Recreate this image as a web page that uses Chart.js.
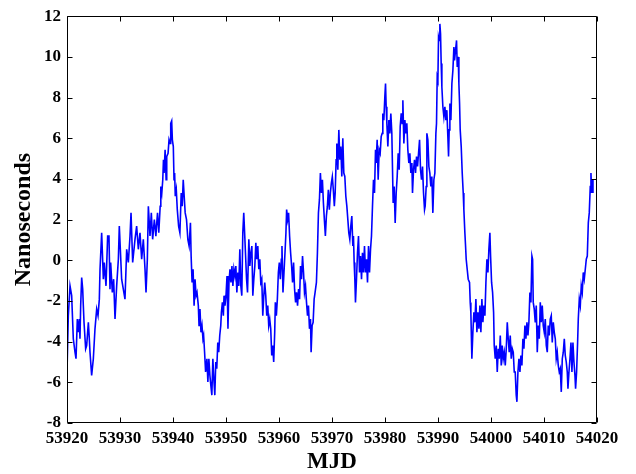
<!DOCTYPE html>
<html lang="es">
<head>
<meta charset="UTF-8">
<title>Variación en nanosegundos por MJD</title>
<script src="https://cdn.jsdelivr.net/npm/chart.js@4.4.1/dist/chart.umd.min.js"></script>
<style>
    body {
        margin: 0;
        background: #ffffff;
    }
    #contenedor {
        width: 636px;
        height: 474px;
    }
</style>
</head>
<body>
<div id="contenedor">
    <canvas id="myChart" width="636" height="474"></canvas>
</div>
<script>
// Valores leídos por tramos: fecha en MJD y desfase en nanosegundos

const mjdTramo1 = [53920.0, 53920.25, 53920.57, 53920.88, 53921.19, 53921.51, 53921.7, 53921.95, 53922.14, 53922.33, 53922.45, 53922.58, 53922.77, 53922.96, 53923.08, 53923.21, 53923.52, 53923.71, 53924.03, 53924.21, 53924.34, 53924.65, 53924.97, 53925.28, 53925.6, 53925.85, 53926.1, 53926.23, 53926.54, 53926.86, 53927.04, 53927.36, 53927.67, 53927.92, 53928.11, 53928.24, 53928.55, 53928.8, 53929.06, 53929.37, 53929.69, 53929.87, 53930.31, 53930.94, 53931.26, 53931.57, 53931.89, 53932.08, 53932.39, 53932.83, 53933.14, 53933.46, 53933.77, 53934.09, 53934.4, 53934.72, 53934.91, 53935.16, 53935.35, 53935.66, 53935.91, 53936.16, 53936.48];
const nsTramo1 = [-5.49, -2.72, -1.26, -1.74, -3.86, -4.52, -4.84, -2.89, -3.54, -2.89, -3.86, -2.23, -0.85, -1.42, -2.23, -3.05, -4.35, -4.19, -3.05, -3.86, -4.52, -5.66, -4.84, -3.37, -2.4, -2.72, -1.91, -0.44, 1.35, -0.93, -0.11, -1.26, 1.19, 1.19, -1.42, -0.11, -1.58, -0.93, -2.89, -1.26, 0.05, 1.68, -0.93, -1.91, 0.54, -0.11, 1.19, 2.33, -0.11, 1.03, 1.68, 0.54, 1.35, 0.05, 1.03, -0.44, -1.58, 0.05, 2.66, 1.19, 2.33, 1.03, 2.0];

const mjdTramo2 = [53936.77, 53936.89, 53937.08, 53937.32, 53937.58, 53937.7, 53937.89, 53938.07, 53938.2, 53938.32, 53938.51, 53938.7, 53938.82, 53939.07, 53939.25, 53939.44, 53939.57, 53939.75, 53939.88, 53940.06, 53940.19, 53940.31, 53940.43, 53940.62, 53940.81, 53941.06, 53941.3, 53941.55, 53941.74, 53941.93, 53942.11, 53942.3, 53942.55, 53942.8, 53943.04, 53943.29, 53943.42, 53943.6, 53943.79, 53943.98, 53944.16, 53944.35, 53944.53, 53944.78, 53944.91, 53945.09, 53945.28, 53945.47, 53945.65, 53945.78, 53945.96, 53946.15, 53946.4, 53946.58, 53946.77, 53946.96, 53947.14, 53947.33, 53947.52, 53947.7, 53947.89, 53948.07, 53948.26, 53948.45, 53948.63, 53948.82, 53949.01, 53949.13, 53949.32, 53949.5, 53949.63, 53949.81, 53950.0, 53950.19, 53950.37, 53950.56, 53950.75, 53950.93, 53951.12, 53951.3, 53951.49, 53951.68, 53951.86, 53952.05, 53952.24, 53952.42, 53952.61, 53952.8, 53952.98, 53953.17, 53953.35, 53953.54];
const nsTramo2 = [1.19, 1.68, 2.33, 1.35, 2.66, 3.63, 3.31, 3.96, 4.94, 4.29, 5.43, 3.96, 5.1, 5.26, 5.92, 5.75, 6.73, 6.85, 5.92, 5.59, 3.96, 4.29, 3.15, 3.47, 2.49, 1.68, 1.35, 3.31, 2.66, 3.96, 3.15, 2.33, 2.0, 1.03, 0.7, 1.84, 0.21, -1.09, -0.44, -2.23, -0.93, -1.74, -1.58, -2.23, -3.21, -2.4, -3.54, -3.21, -3.86, -3.7, -4.52, -5.49, -4.84, -5.98, -4.84, -5.66, -6.15, -6.63, -4.84, -5.82, -6.63, -5.0, -5.33, -4.04, -4.52, -3.7, -3.21, -2.56, -2.07, -2.72, -1.74, -2.23, -1.74, -0.77, -3.37, -1.09, -0.44, -1.09, -0.28, -1.26, -0.44, -0.77, -0.28, -1.58, -0.6, -1.26, 0.54, -1.26, -1.74, 1.35, 2.33, 1.19];

const mjdTramo3 = [53953.88, 53954.06, 53954.31, 53954.5, 53954.69, 53954.88, 53955.06, 53955.25, 53955.44, 53955.63, 53955.81, 53956.0, 53956.19, 53956.38, 53956.56, 53956.75, 53956.94, 53957.13, 53957.31, 53957.5, 53957.69, 53957.88, 53958.06, 53958.25, 53958.44, 53958.63, 53958.81, 53959.0, 53959.19, 53959.31, 53959.5, 53959.69, 53959.88, 53960.06, 53960.25, 53960.44, 53960.56, 53960.75, 53960.94, 53961.13, 53961.31, 53961.44, 53961.63, 53961.81, 53962.0, 53962.19, 53962.38, 53962.56, 53962.75, 53962.94, 53963.13, 53963.31, 53963.5, 53963.69, 53963.88, 53964.06, 53964.25, 53964.44, 53964.63, 53964.81, 53965.0, 53965.19, 53965.38, 53965.56, 53965.75, 53965.94, 53966.06, 53966.25, 53966.44, 53966.63, 53966.81, 53967.06, 53967.25, 53967.44, 53967.63, 53967.81, 53968.0, 53968.19, 53968.38, 53968.56, 53968.75, 53968.94, 53969.13, 53969.31, 53969.5, 53969.69, 53969.88, 53970.06, 53970.25, 53970.44];
const nsTramo3 = [-0.93, -1.58, 1.03, -0.28, 0.37, 0.7, -1.74, -0.93, -0.28, 0.86, 0.05, 0.7, -0.44, 0.05, -1.09, -0.93, -2.72, -1.74, -1.09, -1.74, -2.72, -2.23, -3.21, -2.89, -3.37, -4.68, -4.19, -5.0, -3.54, -2.07, -2.72, -1.91, -0.6, -0.11, -0.93, 0.05, 0.7, -1.58, -0.6, 0.37, 1.35, 2.49, 2.0, 2.33, 1.19, 0.37, -0.28, -1.09, -0.11, -1.42, -2.07, -1.58, -2.23, -1.42, -1.91, -0.28, -0.93, 0.21, -0.6, -1.58, -1.26, -2.07, -2.72, -2.23, -3.37, -2.89, -4.52, -3.21, -3.05, -1.91, -1.58, -1.09, 0.37, 2.33, 2.98, 4.29, 3.31, 3.96, 2.82, 2.0, 1.19, 2.17, 2.66, 3.47, 2.49, 3.31, 3.8, 4.11, 3.47, 2.66];

const mjdTramo4 = [53970.6, 53970.78, 53970.91, 53971.1, 53971.29, 53971.48, 53971.66, 53971.85, 53972.04, 53972.23, 53972.42, 53972.61, 53972.8, 53972.99, 53973.17, 53973.36, 53973.55, 53973.74, 53973.93, 53974.05, 53974.18, 53974.31, 53974.43, 53974.62, 53974.81, 53975.0, 53975.19, 53975.38, 53975.57, 53975.75, 53975.94, 53976.13, 53976.32, 53976.51, 53976.7, 53976.89, 53977.08, 53977.27, 53977.45, 53977.64, 53977.83, 53978.02, 53978.21, 53978.33, 53978.52, 53978.71, 53978.9, 53979.09, 53979.28, 53979.47, 53979.59, 53979.78, 53979.97, 53980.1, 53980.22, 53980.35, 53980.54, 53980.73, 53980.92, 53981.1, 53981.29, 53981.42, 53981.54, 53981.73, 53981.92, 53982.11, 53982.3, 53982.49, 53982.68, 53982.87, 53983.06, 53983.24, 53983.37, 53983.56, 53983.75, 53983.94, 53984.12, 53984.31, 53984.5, 53984.69, 53984.88, 53985.07, 53985.19, 53985.38, 53985.57, 53985.76, 53985.95, 53986.14, 53986.33, 53986.52, 53986.7, 53986.89, 53987.08, 53987.27, 53987.46];
const nsTramo4 = [3.31, 4.94, 5.74, 4.45, 6.41, 4.94, 5.59, 4.12, 6.0, 4.29, 4.12, 3.15, 2.66, 2.0, 1.35, 1.03, 1.68, 2.17, 0.7, 1.19, -0.11, -0.93, -2.07, -0.93, 0.37, 1.19, -0.6, 0.21, -0.93, 0.37, -0.6, 0.7, -0.6, 0.05, -1.09, 0.7, -0.6, 0.54, 1.19, 2.66, 3.96, 3.31, 5.43, 4.78, 5.92, 3.96, 5.43, 5.26, 6.08, 6.24, 7.22, 6.89, 8.04, 8.69, 7.55, 6.73, 5.59, 6.89, 6.24, 7.22, 6.24, 4.45, 2.82, 3.63, 1.84, 3.31, 4.12, 5.26, 4.45, 6.57, 7.22, 6.73, 7.87, 5.74, 6.89, 6.24, 6.73, 5.43, 4.78, 5.26, 4.29, 4.78, 3.31, 4.45, 4.94, 4.29, 5.1, 4.61, 5.26, 5.92, 4.45, 3.96, 4.61, 3.31, 2.49];

const mjdTramo5 = [53987.58, 53987.77, 53987.9, 53988.09, 53988.28, 53988.46, 53988.65, 53988.84, 53989.03, 53989.22, 53989.41, 53989.6, 53989.72, 53989.85, 53989.98, 53990.1, 53990.23, 53990.35, 53990.48, 53990.6, 53990.73, 53990.92, 53991.11, 53991.3, 53991.49, 53991.67, 53991.86, 53991.99, 53992.11, 53992.24, 53992.43, 53992.62, 53992.81, 53993.0, 53993.12, 53993.31, 53993.5, 53993.63, 53993.81, 53993.94, 53994.07, 53994.19, 53994.38, 53994.57, 53994.76, 53994.88, 53995.07, 53995.2, 53995.32, 53995.51, 53995.7, 53995.95, 53996.08, 53996.2, 53996.39, 53996.58, 53996.77, 53996.96, 53997.15, 53997.34, 53997.53, 53997.72, 53997.9, 53998.09, 53998.28, 53998.47, 53998.66, 53998.85, 53999.04, 53999.23, 53999.42, 53999.6, 53999.79, 53999.92, 54000.11, 54000.3, 54000.49, 54000.61, 54000.8, 54000.99, 54001.18, 54001.37, 54001.56, 54001.75, 54001.93, 54002.12, 54002.31, 54002.5, 54002.69, 54002.88, 54003.07, 54003.25, 54003.44, 54003.63, 54003.82, 54004.01, 54004.2, 54004.39];
const nsTramo5 = [2.66, 3.63, 6.24, 5.92, 4.61, 4.29, 3.63, 4.12, 2.33, 3.96, 4.29, 6.24, 6.73, 9.0, 8.85, 10.97, 10.81, 11.62, 11.13, 9.67, 8.52, 7.55, 7.06, 7.55, 6.89, 7.38, 6.08, 5.1, 6.41, 7.71, 6.89, 8.69, 9.34, 10.48, 9.83, 10.32, 10.81, 9.5, 10.0, 8.69, 7.71, 6.41, 5.59, 4.29, 3.31, 2.49, 1.35, 0.7, 0.05, -0.44, -0.93, -1.09, -2.07, -2.56, -4.84, -3.54, -2.56, -3.05, -1.91, -3.54, -2.56, -3.37, -2.23, -3.54, -1.91, -3.05, -2.23, -2.72, -1.09, 0.05, -0.6, 0.54, 1.35, 0.21, -1.09, -1.58, -2.56, -4.19, -4.84, -4.19, -5.49, -4.35, -4.84, -3.7, -5.17, -4.19, -4.84, -4.52, -5.17, -4.35, -3.05, -3.86, -4.52, -3.7, -4.84, -4.35, -4.52, -5.49];

const mjdTramo6 = [54004.57, 54004.76, 54004.89, 54005.08, 54005.27, 54005.46, 54005.64, 54005.83, 54006.02, 54006.21, 54006.4, 54006.59, 54006.78, 54006.97, 54007.15, 54007.34, 54007.53, 54007.72, 54007.85, 54007.97, 54008.16, 54008.35, 54008.54, 54008.73, 54008.92, 54009.11, 54009.3, 54009.48, 54009.67, 54009.86, 54010.05, 54010.24, 54010.43, 54010.62, 54010.8, 54010.99, 54011.18, 54011.37, 54011.56, 54011.75, 54011.94, 54012.13, 54012.31, 54012.5, 54012.69, 54012.88, 54013.07, 54013.26, 54013.45, 54013.64, 54013.83, 54014.01, 54014.2, 54014.39, 54014.52, 54014.71, 54014.9, 54015.09, 54015.27, 54015.46, 54015.65, 54015.84, 54015.96, 54016.15, 54016.34, 54016.47, 54016.66, 54016.85, 54017.03, 54017.22, 54017.41, 54017.6, 54017.79, 54017.98, 54018.17, 54018.36, 54018.54, 54018.73, 54018.86, 54018.99, 54019.11, 54019.24];
const nsTramo6 = [-5.49, -6.63, -6.96, -5.49, -4.84, -5.49, -4.68, -5.17, -3.86, -4.35, -3.21, -3.86, -3.05, -3.7, -3.05, -1.58, -2.07, 0.21, 0.05, -2.07, -2.4, -3.05, -2.23, -4.52, -3.21, -3.86, -2.07, -3.05, -2.23, -3.21, -3.54, -2.89, -4.19, -4.52, -3.21, -3.7, -2.89, -2.72, -4.04, -3.05, -3.54, -3.86, -4.84, -4.52, -5.17, -5.49, -5.33, -6.47, -4.84, -4.52, -3.86, -4.68, -5.0, -5.49, -6.31, -5.49, -4.84, -4.04, -5.49, -4.04, -5.0, -5.66, -6.31, -5.49, -4.04, -2.89, -1.91, -2.23, -1.26, -1.58, -0.6, -0.93, -0.44, 0.05, 0.21, 1.84, 2.33, 3.63, 4.29, 3.31, 3.96, 3.31];

// Límites y marcas de los ejes
const limitesX = [53920, 54020];
const limitesY = [-8, 12];
const pasoX = 10;
const pasoY = 2;

// Unir los tramos en una sola serie de puntos {x, y}
const fechas = [].concat(mjdTramo1, mjdTramo2, mjdTramo3, mjdTramo4, mjdTramo5, mjdTramo6);
const valores = [].concat(nsTramo1, nsTramo2, nsTramo3, nsTramo4, nsTramo5, nsTramo6);

const puntos = [];
for (let i = 0; i < Math.min(fechas.length, valores.length); i++) {
    puntos.push({ x: fechas[i], y: valores[i] });
}

const fuenteEjes = {
    family: "'Liberation Serif', 'Times New Roman', serif",
    weight: 'bold',
    size: 17,
};

// Plugin para dibujar el marco completo y las marcas hacia adentro
const marcoEjes = {
    id: 'marcoEjes',
    afterDraw(chart) {
        const { ctx, chartArea, scales } = chart;
        const izq = Math.round(chartArea.left) + 0.5;
        const der = Math.round(chartArea.right) - 0.5;
        const arriba = Math.round(chartArea.top) + 0.5;
        const abajo = Math.round(chartArea.bottom) - 0.5;
        const largo = 5;

        ctx.save();
        ctx.strokeStyle = '#000000';
        ctx.lineWidth = 1;
        ctx.beginPath();
        ctx.rect(izq, arriba, der - izq, abajo - arriba);

        for (const tick of scales.x.ticks) {
            const px = Math.round(scales.x.getPixelForValue(tick.value)) + 0.5;
            ctx.moveTo(px, abajo);
            ctx.lineTo(px, abajo - largo);
            ctx.moveTo(px, arriba);
            ctx.lineTo(px, arriba + largo);
        }
        for (const tick of scales.y.ticks) {
            const py = Math.round(scales.y.getPixelForValue(tick.value)) + 0.5;
            ctx.moveTo(izq, py);
            ctx.lineTo(izq + largo, py);
            ctx.moveTo(der, py);
            ctx.lineTo(der - largo, py);
        }
        ctx.stroke();
        ctx.restore();
    }
};

const config = {
    type: 'line',
    data: {
        datasets: [
            {
                label: 'Nanoseconds',
                data: puntos,
                borderColor: '#0000ff',
                borderWidth: 1.6,
                pointRadius: 0,
                tension: 0,
                fill: false,
            }
        ]
    },
    options: {
        responsive: false,
        animation: false,
        layout: {
            padding: {
                top: 14,
                right: 39,
                left: 0,
                bottom: 0,
            },
        },
        scales: {
            x: {
                type: 'linear',
                min: limitesX[0],
                max: limitesX[1],
                afterFit: (escala) => { escala.height = 51; },
                grid: { display: false, drawTicks: false },
                border: { display: false },
                ticks: {
                    stepSize: pasoX,
                    autoSkip: false,
                    maxRotation: 0,
                    padding: 5,
                    color: '#000000',
                    font: fuenteEjes,
                    callback: (valor) => String(valor),
                },
                title: {
                    display: true,
                    text: 'MJD',
                    color: '#000000',
                    padding: 0,
                    font: { family: fuenteEjes.family, weight: 'bold', size: 23, lineHeight: 1 },
                },
            },
            y: {
                min: limitesY[0],
                max: limitesY[1],
                afterFit: (escala) => { escala.width = 67; },
                grid: { display: false, drawTicks: false },
                border: { display: false },
                ticks: {
                    stepSize: pasoY,
                    padding: 6,
                    color: '#000000',
                    font: fuenteEjes,
                },
                title: {
                    display: true,
                    text: 'Nanoseconds',
                    color: '#000000',
                    padding: { top: 12, bottom: 0 },
                    font: { family: fuenteEjes.family, weight: 'bold', size: 24, lineHeight: 1 },
                },
            },
        },
        plugins: {
            legend: { display: false },
            tooltip: { enabled: false },
        },
    },
    plugins: [marcoEjes],
};

const myChart = document.getElementById('myChart');
new Chart(myChart, config);
</script>
</body>
</html>
